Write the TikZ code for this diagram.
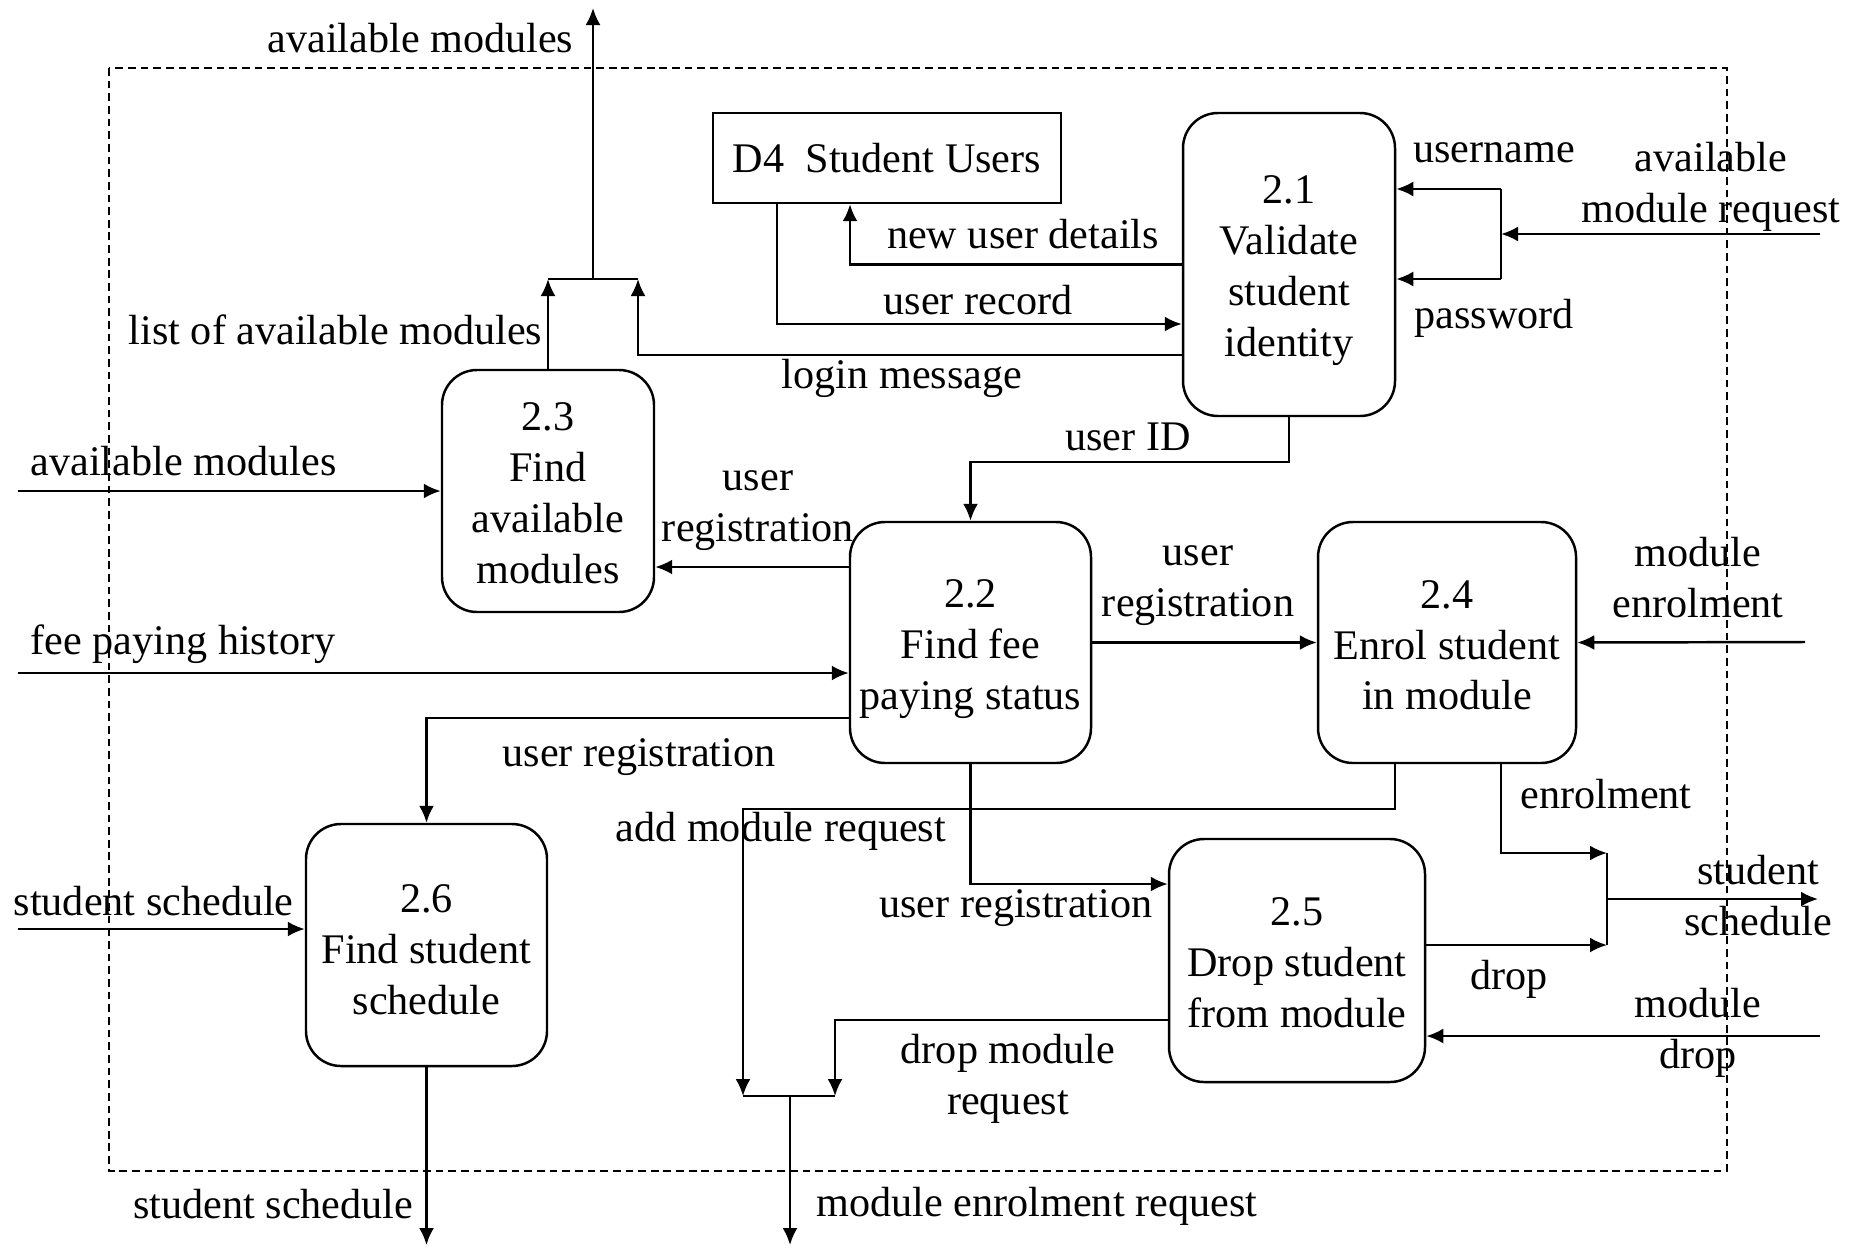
\documentclass[tikz,border=0pt]{standalone}
\usepackage{fontspec}
\setmainfont{Liberation Serif}
\usetikzlibrary{arrows.meta}

\newcommand{\procpad}[1]{\rule{0pt}{#1}}

\tikzset{
  every node/.style={font=\fontsize{12}{14.5}\selectfont},
  proc/.style={draw, rounded corners=3.5mm, align=center, inner sep=0pt, line width=0.7pt},
  store/.style={draw, inner sep=0pt, line width=0.7pt},
  lbl/.style={inner sep=0pt, align=center},
  flow/.style={-{Latex[length=1.7mm,width=1.5mm]}, line width=0.7pt},
  bar/.style={line width=0.7pt}
}

\begin{document}
\begin{tikzpicture}
\useasboundingbox (0,0) rectangle (18.63,-12.47);
\draw[dash pattern=on 2.2pt off 1.4pt, line width=0.6pt] (1.09,-0.68) rectangle (17.27,-11.71);

% processes and store
\node[proc, minimum width=2.12cm, minimum height=3.03cm] (p21) at (12.89,-2.645) {\procpad{11.5pt}2.1\\Validate\\student\\identity};
\node[proc, minimum width=2.41cm, minimum height=2.41cm] (p22) at (9.705,-6.425) {\procpad{11.5pt}2.2\\Find fee\\paying status};
\node[proc, minimum width=2.12cm, minimum height=2.42cm] (p23) at (5.48,-4.91) {\procpad{9pt}2.3\\Find\\available\\modules};
\node[proc, minimum width=2.58cm, minimum height=2.41cm] (p24) at (14.47,-6.425) {\procpad{9.5pt}2.4\\Enrol student\\in module};
\node[proc, minimum width=2.56cm, minimum height=2.43cm] (p25) at (12.97,-9.605) {\procpad{9pt}2.5\\Drop student\\from module};
\node[proc, minimum width=2.41cm, minimum height=2.42cm] (p26) at (4.265,-9.45) {\procpad{10.5pt}2.6\\Find student\\schedule};
\node[store, minimum width=3.48cm, minimum height=0.90cm] (d4) at (8.87,-1.58) {D4\ \ Student Users};

% free ends and joins
\coordinate (inA) at (18.20,-2.34);
\coordinate (jA) at (15.01,-2.34);
\coordinate (jAt) at (15.01,-1.89);
\coordinate (jAb) at (15.01,-2.79);
\coordinate (inB) at (0.18,-4.91);
\coordinate (inC) at (0.18,-6.73);
\coordinate (inD) at (18.05,-6.42);
\coordinate (inE) at (18.20,-10.36);
\coordinate (inF) at (0.18,-9.29);
\coordinate (jl) at (5.48,-2.79);
\coordinate (jr) at (6.38,-2.79);
\coordinate (jm) at (5.93,-2.79);
\coordinate (outA) at (5.93,-0.08);
\coordinate (jBl) at (7.43,-10.96);
\coordinate (jBr) at (8.35,-10.96);
\coordinate (jBm) at (7.90,-10.96);
\coordinate (outB) at (7.90,-12.45);
\coordinate (jCt) at (16.07,-8.53);
\coordinate (jCb) at (16.07,-9.45);
\coordinate (jCm) at (16.07,-8.99);
\coordinate (outC) at (18.18,-8.99);
\coordinate (outD) at (4.265,-12.45);
\coordinate (r23) at ([yshift=-7.6mm]p23.east);

% flows
\draw[bar] (jl) -- (jr);
\draw[flow] (p23.north) -- (jl);
\draw[flow] ([yshift=-9.05mm]p21.west) -| (jr);
\draw[flow] (jm) -- (outA);
\draw[flow] (p21.west) -| ([xshift=-3.7mm]d4.south);
\draw[flow] ([xshift=-11mm]d4.south) |- ([yshift=-5.95mm]p21.west);
\draw[bar] (jAt) -- (jAb);
\draw[flow] (inA) -- (jA);
\draw[flow] (jAt) -- (p21.east |- jAt);
\draw[flow] (jAb) -- (p21.east |- jAb);
\draw[flow] (p21.south) -- ++(0,-0.45) -| (p22.north);
\draw[flow] (inB) -- (p23.west);
\draw[flow] (p22.west |- r23) -- (r23);
\draw[flow] (inC) -- (inC -| p22.west);
\draw[flow] ([yshift=-7.55mm]p22.west) -| (p26.north);
\draw[flow] (p22.east) -- (p24.west);
\draw[flow] (inD) -- (p24.east);
\draw[flow] ([xshift=-5.2mm]p24.south) -- ++(0,-0.45) -| (jBl);
\draw[flow] (p22.south) |- ([yshift=7.65mm]p25.west);
\draw[flow] ([xshift=5.4mm]p24.south) |- (jCt);
\draw[bar] (jCt) -- (jCb);
\draw[flow] (p25.east |- jCb) -- (jCb);
\draw[flow] (jCm) -- (outC);
\draw[flow] (inE) -- (inE -| p25.east);
\draw[flow] ([yshift=-5.95mm]p25.west) -| (jBr);
\draw[bar] (jBl) -- (jBr);
\draw[flow] (jBm) -- (outB);
\draw[flow] (inF) -- (inF -| p26.west);
\draw[flow] (p26.south) -- (outD);

% labels
\node[lbl, anchor=east] (lavout) at (5.74,-0.38) {available modules};
\node[lbl, anchor=east] (llist) at (5.43,-3.30) {list of available modules};
\node[lbl] (llogin) at (9.02,-3.78) {login message};
\node[lbl] (lnew) at (10.23,-2.34) {new user details};
\node[lbl] (lrec) at (9.78,-3.00) {user record};
\node[lbl] (luser) at (14.94,-1.53) {username};
\node[lbl] (lpass) at (14.94,-3.18) {password};
\node[lbl] (lavreq) at (17.11,-1.87) {available\\module request};
\node[lbl] (lid) at (11.28,-4.37) {user ID};
\node[lbl, anchor=west] (lavin) at (0.30,-4.61) {available modules};
\node[lbl] (lreg23) at (7.58,-5.11) {user\\registration};
\node[lbl, anchor=west] (lfee) at (0.30,-6.44) {fee paying history};
\node[lbl] (lreg26) at (6.39,-7.57) {user registration};
\node[lbl] (lreg24) at (11.98,-5.86) {user\\registration};
\node[lbl] (lmenr) at (16.98,-5.78) {module\\enrolment};
\node[lbl, anchor=west] (ladd) at (6.15,-8.31) {add module request};
\node[lbl, anchor=east] (lreg25) at (11.53,-9.08) {user registration};
\node[lbl] (lenr) at (16.06,-7.94) {enrolment};
\node[lbl] (ldrop) at (15.09,-9.79) {drop};
\node[lbl] (lschout) at (17.58,-8.96) {student\\schedule};
\node[lbl] (lmdrop) at (16.98,-10.33) {module\\drop};
\node[lbl] (ldreq) at (10.08,-10.79) {drop module\\request};
\node[lbl, anchor=west] (lmreq) at (8.16,-12.06) {module enrolment request};
\node[lbl, anchor=west] (lschin) at (0.13,-9.01) {student schedule};
\node[lbl, anchor=east] (lschdn) at (4.14,-12.04) {student schedule};
\end{tikzpicture}
\end{document}
